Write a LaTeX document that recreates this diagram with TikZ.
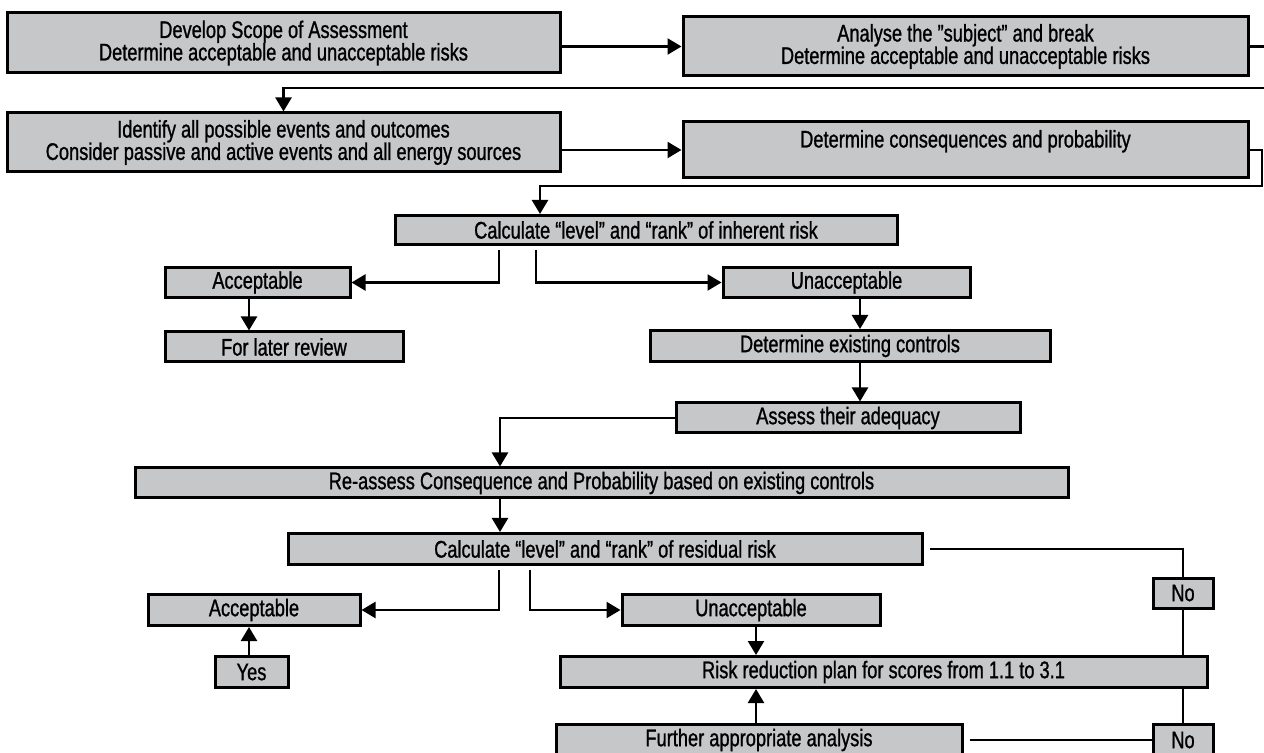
\documentclass[tikz,border=0pt]{standalone}
\usepackage{fontspec}
\setmainfont{Liberation Sans}[FakeStretch=0.76,FakeBold=1]
\usetikzlibrary{arrows.meta}
\definecolor{boxgray}{RGB}{198,199,201}

\begin{document}
\begin{tikzpicture}[x=0.5pt,y=-0.5pt,
  box/.style={draw,line width=1.5pt,fill=boxgray,inner sep=0pt,align=center,
    font=\fontsize{12}{11.2}\selectfont},
  arr/.style={line width=1.2pt,-{Triangle[length=7pt,width=8pt]}},
  ln/.style={line width=1.2pt}]
\clip (0,0) rectangle (1264,753);
% first rows
\node [box,minimum width=276.5pt,minimum height=30pt] (scope) at (283.5,43)
  {Develop Scope of Assessment\\Determine acceptable and unacceptable risks};
\node [box,minimum width=282.5pt,minimum height=29.5pt] (analyse) at (965.5,46.5)
  {Analyse the "subject" and break\\Determine acceptable and unacceptable risks};
\node [box,minimum width=276.5pt,minimum height=29.5pt] (identify) at (283.5,142.5)
  {Identify all possible events and outcomes\\Consider passive and active events and all energy sources};
\node [box,minimum width=282.5pt,minimum height=28pt] (conseq) at (965.5,150)
  {Determine consequences and probability\\\mbox{}};
\node [box,minimum width=251pt,minimum height=14.5pt] (inherent) at (646,230)
  {Calculate “level” and “rank” of inherent risk};
\node [box,minimum width=92.5pt,minimum height=15pt] (acc1) at (257.5,282.5) {Acceptable};
\node [box,minimum width=123.5pt,minimum height=15pt] (unacc1) at (846.5,282.5) {Unacceptable};
\node [box,minimum width=119pt,minimum height=15pt] (later) at (284,347) {For later review};
\node [box,minimum width=200pt,minimum height=15.5pt] (existing) at (850,346) {Determine existing controls};
\node [box,minimum width=172pt,minimum height=15pt] (assess) at (848,418) {Assess their adequacy};
% residual part
\node [box,minimum width=466.5pt,minimum height=15pt] (reassess) at (601.5,483)
  {Re-assess Consequence and Probability based on existing controls};
\node [box,minimum width=317pt,minimum height=15.5pt] (residual) at (605,549)
  {Calculate “level” and “rank” of residual risk};
\node [box,minimum width=106pt,minimum height=15.5pt] (acc2) at (254,610) {Acceptable};
\node [box,minimum width=129pt,minimum height=15.5pt] (unacc2) at (751,610) {Unacceptable};
\node [box,minimum width=30pt,minimum height=15pt] (noA) at (1183,593) {No};
\node [box,minimum width=36.5pt,minimum height=15.5pt] (yes) at (251.5,672) {Yes};
\node [box,minimum width=323.5pt,minimum height=15.5pt] (plan) at (883.5,672)
  {Risk reduction plan for scores from 1.1 to 3.1};
\node [box,minimum width=203pt,minimum height=15.5pt] (further) at (759,740) {Further appropriate analysis};
\node [box,minimum width=30pt,minimum height=15.5pt] (noB) at (1183,740) {No};

\coordinate (r1) at (1264,46.5);
\coordinate (r2) at (1264,88);
\coordinate (r3) at (1262,186);
\coordinate (r4) at (540,186);
\coordinate (b1) at (499,250);
\coordinate (b2) at (536,250);
\coordinate (b3) at (500,418);
\coordinate (b4) at (499,570);
\coordinate (b5) at (530,570);
\coordinate (x1) at (249,0);
\coordinate (x2) at (860,0);
\coordinate (x3) at (756,0);

\draw [arr] (scope.east |- analyse.west) -- (analyse.west);
\draw [ln] (analyse.east) -- (r1);
\draw [arr] (r2) -| (identify.north);
\draw [arr] (identify.east |- conseq.west) -- (conseq.west);
\draw [arr] (conseq.east) -| (r3) -- (r4) -- (r4 |- inherent.north);
\draw [arr] (b1) |- (acc1.east);
\draw [arr] (b2) |- (unacc1.west);
\draw [arr] (acc1.south -| x1) -- (later.north -| x1);
\draw [arr] (unacc1.south -| x2) -- (existing.north -| x2);
\draw [arr] (existing.south -| x2) -- (assess.north -| x2);
\draw [arr] (assess.west) -- (b3) -- (b3 |- reassess.north);
\draw [arr] (reassess.south -| b3) -- (residual.north -| b3);
\draw [arr] (b4) |- (acc2.east);
\draw [arr] (b5) |- (unacc2.west);
\draw [arr] (yes.north -| x1) -- (acc2.south -| x1);
\draw [arr] (unacc2.south -| x3) -- (plan.north -| x3);
\draw [arr] (further.north -| x3) -- (plan.south -| x3);
% the No loop
\draw [ln] ([xshift=3pt]residual.east) -| (noA.north);
\draw [ln] (noA.south) -- (noA.south |- plan.north);
\draw [ln] (plan.south -| noB.north) -- (noB.north);
\draw [ln] ([xshift=3pt]further.east) -- (noB.west);
\end{tikzpicture}
\end{document}
